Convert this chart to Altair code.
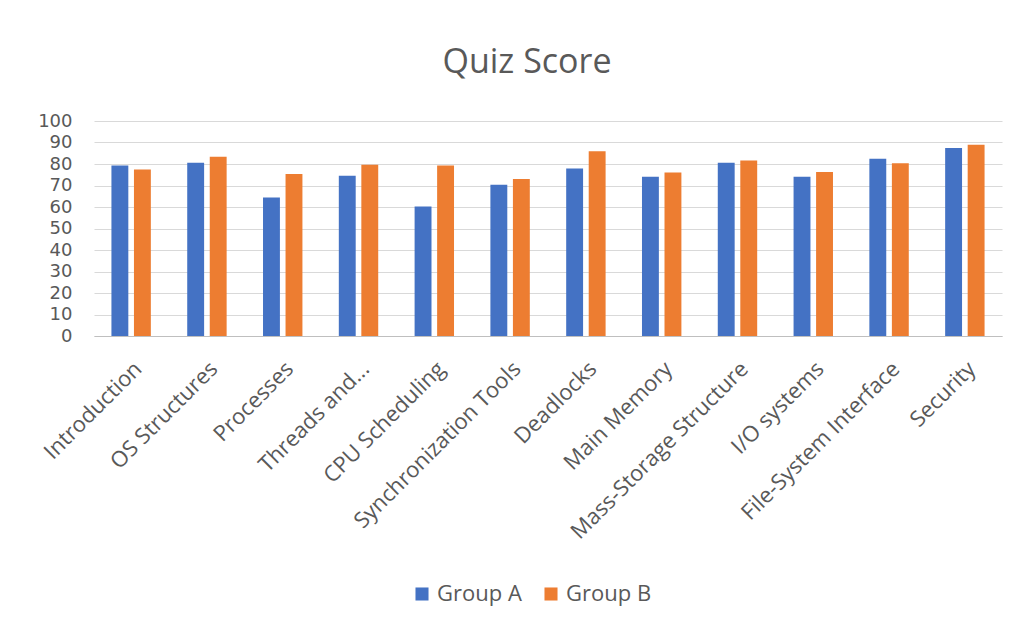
import altair as alt
import pandas as pd

categories = ["Introduction", "OS Structures", "Processes", "Threads and...",
              "CPU Scheduling", "Synchronization Tools", "Deadlocks", "Main Memory",
              "Mass-Storage Structure", "I/O systems", "File-System Interface", "Security"]
group_a = [79.3, 80.6, 64.4, 74.5, 60.2, 70.3, 77.9, 74.1, 80.6, 74.1, 82.4, 87.5]
group_b = [77.4, 83.4, 75.4, 79.7, 79.3, 73.0, 85.9, 76.0, 81.6, 76.3, 80.3, 89.0]
groups = ["Group A", "Group B"]
y_ticks = list(range(0, 101, 10))

rows = []
for c, a, b in zip(categories, group_a, group_b):
    rows.append({"Topic": c, "Group": groups[0], "Score": a})
    rows.append({"Topic": c, "Group": groups[1], "Score": b})
df = pd.DataFrame(rows)

FONT = "Open Sans"
GRAY = "#595959"

chart = alt.Chart(df).mark_bar().encode(
    x=alt.X("Topic:N", sort=categories, title=None,
            scale=alt.Scale(paddingInner=0.48, paddingOuter=0.23),
            axis=alt.Axis(labelAngle=-45, labelAlign="right", labelBaseline="middle",
                          labelFontSize=22, labelColor=GRAY, labelFont=FONT,
                          ticks=False, domainColor="#bfbfbf", labelPadding=29,
                          labelOffset=7, labelOverlap=False, labelLimit=0)),
    xOffset=alt.XOffset("Group:N", sort=groups, scale=alt.Scale(paddingInner=0.25)),
    y=alt.Y("Score:Q", title=None,
            scale=alt.Scale(domain=[0, 100], nice=False),
            axis=alt.Axis(values=y_ticks, labelFontSize=18, labelColor=GRAY,
                          labelFont="DejaVu Sans",
                          ticks=False, domain=False, gridColor="#d9d9d9", labelPadding=22)),
    color=alt.Color("Group:N", sort=groups,
                    scale=alt.Scale(domain=groups, range=["#4472C4", "#ED7D31"]),
                    legend=alt.Legend(title=None, orient="none", direction="horizontal",
                                      legendX=317, legendY=462, padding=0,
                                      symbolType="square", symbolSize=170,
                                      symbolStrokeWidth=0, symbolOffset=0,
                                      labelFontSize=22, labelColor=GRAY, labelFont=FONT,
                                      labelOffset=4, columnPadding=18)),
).properties(
    width=908, height=215,
    title=alt.TitleParams("Quiz Score", fontSize=34, color=GRAY, font=FONT,
                          fontWeight="normal", offset=32, anchor="middle", dx=-21),
    padding={"left": 86, "top": 113, "right": 25, "bottom": 286},
    autosize=alt.AutoSizeParams(type="none"),
).configure_view(stroke=None)

chart.save("out.html", embed_options={"renderer": "svg", "actions": False})
